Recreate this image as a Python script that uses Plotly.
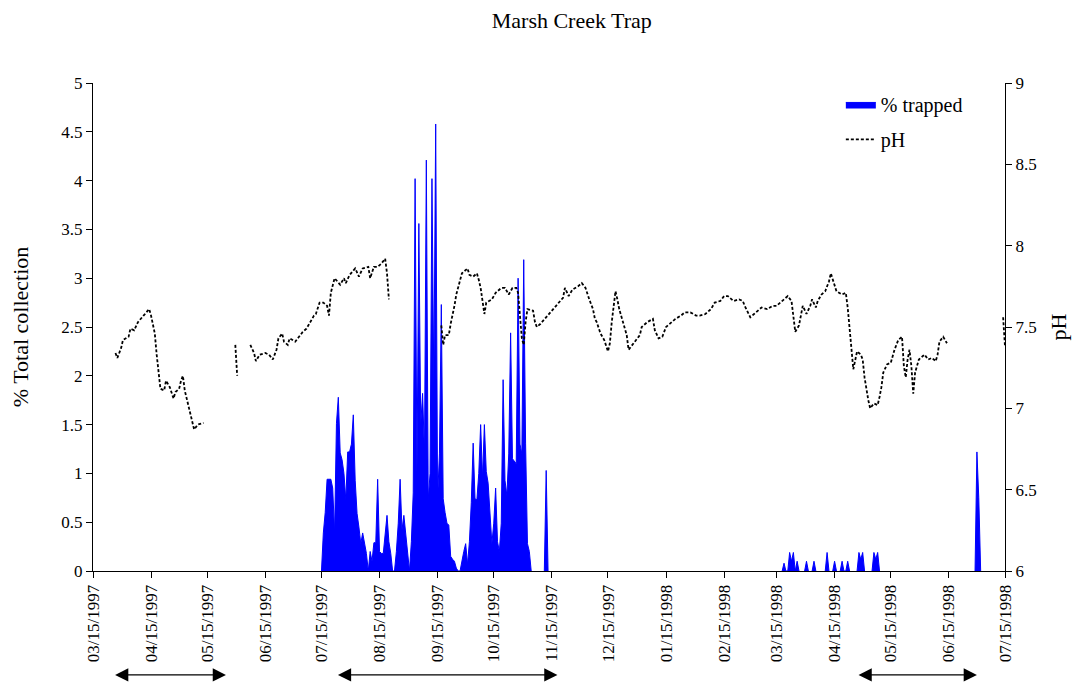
import plotly.graph_objs as go
import pandas as pd

# pH readings (right axis); None breaks the line where there is no data
ph_dates = [
	"1997-03-27", "1997-03-28", "1997-03-30", "1997-03-31", "1997-04-03", "1997-04-04",
	"1997-04-06", "1997-04-08", "1997-04-11", "1997-04-14", "1997-04-15", "1997-04-17",
	"1997-04-18", "1997-04-19", "1997-04-20", "1997-04-22", "1997-04-23", "1997-04-25",
	"1997-04-27", "1997-04-28", "1997-04-30", "1997-05-01", "1997-05-02", "1997-05-03",
	"1997-05-05", "1997-05-06", "1997-05-08", "1997-05-10", "1997-05-13", "1997-05-20",
	"1997-05-30", "1997-05-31", "1997-06-03",
	"1997-06-07", "1997-06-09", "1997-06-10", "1997-06-12", "1997-06-15", "1997-06-17",
	"1997-06-19", "1997-06-21", "1997-06-22", "1997-06-24", "1997-06-25", "1997-06-27",
	"1997-06-28", "1997-07-01", "1997-07-03", "1997-07-05", "1997-07-07", "1997-07-09",
	"1997-07-11", "1997-07-12", "1997-07-14", "1997-07-16", "1997-07-18", "1997-07-19",
	"1997-07-20", "1997-07-22", "1997-07-25", "1997-07-27", "1997-07-28", "1997-07-30",
	"1997-08-02", "1997-08-04", "1997-08-06", "1997-08-09", "1997-08-10", "1997-08-12",
	"1997-08-14", "1997-08-16", "1997-08-18", "1997-08-19", "1997-08-20", "1997-09-01",
	"1997-09-17", "1997-09-18", "1997-09-19", "1997-09-21", "1997-09-22", "1997-09-23",
	"1997-09-24", "1997-09-25", "1997-09-27", "1997-09-28", "1997-10-01", "1997-10-02",
	"1997-10-04", "1997-10-06", "1997-10-07", "1997-10-08", "1997-10-09", "1997-10-10",
	"1997-10-11", "1997-10-14", "1997-10-16", "1997-10-19", "1997-10-21", "1997-10-23",
	"1997-10-25", "1997-10-27", "1997-10-28", "1997-10-29", "1997-10-30", "1997-10-31",
	"1997-11-01", "1997-11-02", "1997-11-05", "1997-11-06", "1997-11-07", "1997-11-09",
	"1997-11-12", "1997-11-14", "1997-11-17", "1997-11-19", "1997-11-21", "1997-11-22",
	"1997-11-24", "1997-11-26", "1997-11-29", "1997-12-01", "1997-12-03", "1997-12-05",
	"1997-12-07", "1997-12-08", "1997-12-09", "1997-12-11", "1997-12-13", "1997-12-15",
	"1997-12-16", "1997-12-17", "1997-12-19", "1997-12-20", "1997-12-21", "1997-12-23",
	"1997-12-25", "1997-12-26", "1997-12-28", "1997-12-30", "1998-01-01", "1998-01-02",
	"1998-01-05", "1998-01-08", "1998-01-09", "1998-01-11", "1998-01-13", "1998-01-15",
	"1998-01-17", "1998-01-20", "1998-01-23", "1998-01-25", "1998-01-28", "1998-01-31",
	"1998-02-02", "1998-02-05", "1998-02-08", "1998-02-10", "1998-02-13", "1998-02-15",
	"1998-02-17", "1998-02-20", "1998-02-23", "1998-02-25", "1998-02-26", "1998-03-01",
	"1998-03-03", "1998-03-05", "1998-03-07", "1998-03-10", "1998-03-13", "1998-03-15",
	"1998-03-17", "1998-03-20", "1998-03-21", "1998-03-23", "1998-03-24", "1998-03-25",
	"1998-03-27", "1998-03-28", "1998-03-29", "1998-03-31", "1998-04-02", "1998-04-03",
	"1998-04-05", "1998-04-06", "1998-04-08", "1998-04-10", "1998-04-12", "1998-04-13",
	"1998-04-14", "1998-04-16", "1998-04-19", "1998-04-21", "1998-04-22", "1998-04-23",
	"1998-04-24", "1998-04-25", "1998-04-27", "1998-04-29", "1998-04-30", "1998-05-01",
	"1998-05-03", "1998-05-04", "1998-05-06", "1998-05-08", "1998-05-09", "1998-05-10",
	"1998-05-11", "1998-05-13", "1998-05-15", "1998-05-16", "1998-05-17", "1998-05-19",
	"1998-05-21", "1998-05-22", "1998-05-23", "1998-05-24", "1998-05-25", "1998-05-26",
	"1998-05-27", "1998-05-28", "1998-05-30", "1998-06-01", "1998-06-02", "1998-06-04",
	"1998-06-06", "1998-06-08", "1998-06-09", "1998-06-10", "1998-06-12", "1998-06-14",
	"1998-06-20", "1998-07-14", "1998-07-15",
]
ph_values = [
	7.34, 7.31, 7.37, 7.42, 7.44, 7.49,
	7.48, 7.53, 7.57, 7.61, 7.57, 7.46,
	7.33, 7.24, 7.12, 7.11, 7.17, 7.13,
	7.06, 7.10, 7.12, 7.17, 7.20, 7.11,
	7.02, 6.96, 6.87, 6.90, 6.91, None,
	7.39, 7.20, None,
	7.39, 7.34, 7.29, 7.33, 7.34, 7.33,
	7.30, 7.36, 7.43, 7.46, 7.41, 7.39,
	7.43, 7.41, 7.44, 7.47, 7.49, 7.53,
	7.57, 7.58, 7.65, 7.65, 7.63, 7.57,
	7.71, 7.80, 7.76, 7.80, 7.77, 7.82,
	7.86, 7.81, 7.86, 7.87, 7.80, 7.87,
	7.87, 7.89, 7.92, 7.83, 7.67, None,
	7.51, 7.39, 7.45, 7.45, 7.52, 7.57,
	7.63, 7.70, 7.79, 7.83, 7.86, 7.82,
	7.81, 7.83, 7.79, 7.74, 7.66, 7.58,
	7.65, 7.67, 7.71, 7.74, 7.74, 7.70,
	7.74, 7.74, 7.71, 7.58, 7.43, 7.39,
	7.53, 7.61, 7.60, 7.53, 7.50, 7.52,
	7.56, 7.59, 7.63, 7.66, 7.68, 7.74,
	7.69, 7.73, 7.75, 7.77, 7.74, 7.67,
	7.61, 7.55, 7.53, 7.46, 7.42, 7.35,
	7.40, 7.53, 7.72, 7.67, 7.61, 7.53,
	7.45, 7.36, 7.39, 7.42, 7.45, 7.50,
	7.53, 7.55, 7.48, 7.43, 7.44, 7.50,
	7.52, 7.55, 7.57, 7.59, 7.59, 7.57,
	7.57, 7.58, 7.61, 7.65, 7.66, 7.69,
	7.69, 7.66, 7.67, 7.66, 7.63, 7.56,
	7.58, 7.60, 7.62, 7.61, 7.63, 7.63,
	7.65, 7.68, 7.69, 7.66, 7.55, 7.47,
	7.51, 7.57, 7.63, 7.58, 7.63, 7.67,
	7.62, 7.66, 7.70, 7.72, 7.78, 7.83,
	7.79, 7.72, 7.70, 7.71, 7.62, 7.50,
	7.34, 7.24, 7.35, 7.33, 7.30, 7.19,
	7.05, 7.00, 7.03, 7.02, 7.07, 7.13,
	7.22, 7.27, 7.28, 7.33, 7.36, 7.42,
	7.44, 7.26, 7.19, 7.30, 7.36, 7.26,
	7.09, 7.22, 7.30, 7.32, 7.33, 7.30,
	7.31, 7.29, 7.33, 7.41, 7.44, 7.40,
	None, 7.56, 7.38,
]

# % of total collection trapped, daily from 07/14/1997
trap_1997_start = "1997-07-14"
trap_1997_pct = [
	0, 0, 0.39, 0.6, 0.94, 0.94, 0.94, 0.85, 0.39, 1.51,
	1.78, 1.21, 1.14, 1.0, 0.73, 1.22, 1.22, 1.30, 1.60, 0.93,
	0.59, 0.45, 0.28, 0.39, 0.3, 0.18, 0, 0.20, 0.10, 0.29,
	0.29, 0.94, 0.20, 0.18, 0.18, 0.42, 0.57, 0.3, 0.18, 0,
	0, 0.2, 0.49, 0.94, 0.42, 0.57, 0.4, 0.18, 0, 0.3,
	0.8, 4.02, 1.0, 3.56, 1.5, 1.82, 1.2, 4.21, 0.73, 1.0,
	4.02, 1.92, 4.58, 0.74, 1.2, 2.73, 0.74, 0.6, 0.49, 0.47,
	0.15, 0.12, 0.10, 0.03, 0, 0, 0.12, 0.2, 0.28, 0.07,
	0.3, 0.7, 1.31, 0.74, 0.73, 1.0, 1.50, 0.95, 1.50, 1.02,
	0.9, 0.6, 0.28, 0.49, 0.85, 0.3, 0.2, 0.49, 1.96, 0.93,
	0.77, 1.2, 2.44, 1.15, 1.12, 1.1, 3.00, 1.3, 1.2, 3.19,
	1.31, 0.28, 0.2, 0, 0, 0, 0, 0, 0, 0,
	0, 1.03, 0,
]
# 1998 catches (all other days were zero)
trap_1998_dates = [
	"1998-03-19", "1998-03-22", "1998-03-23", "1998-03-24", "1998-03-26", "1998-03-31",
	"1998-04-04", "1998-04-11", "1998-04-15", "1998-04-19", "1998-04-22", "1998-04-28",
	"1998-04-29", "1998-04-30", "1998-05-06", "1998-05-07", "1998-05-08", "1998-06-30",
	"1998-07-01",
]
trap_1998_pct = [
	0.08, 0.19, 0.10, 0.19, 0.10, 0.10,
	0.10, 0.19, 0.10, 0.10, 0.10, 0.19,
	0.12, 0.19, 0.19, 0.12, 0.19, 1.22,
	0.75,
]

x_start = "1997-03-15"
x_end = "1998-07-15"

# periods marked with arrows under the date axis
arrow_starts = ["1997-03-26", "1997-07-23", "1998-04-27"]
arrow_ends = ["1997-05-25", "1997-11-18", "1998-06-30"]

days = pd.date_range(x_start, x_end, freq="D")
trap = pd.Series(0.0, index=days)
block = pd.date_range(trap_1997_start, periods=len(trap_1997_pct), freq="D")
trap.loc[block] = trap_1997_pct
trap.loc[pd.to_datetime(trap_1998_dates)] = trap_1998_pct

# only draw around catches so the blue outline doesn't cover the date axis
nz = trap > 0
keep = nz | nz.shift(1, fill_value=False) | nz.shift(-1, fill_value=False)
trap_plot = trap.where(keep)

serif = "Liberation Serif, Times New Roman, serif"

fig = go.Figure()
fig.add_trace(go.Scatter(
	x=trap_plot.index, y=trap_plot.values,
	mode="lines", fill="tozeroy", connectgaps=False,
	line=dict(color="#0000ff", width=1),
	fillcolor="#0000ff",
	name="% trapped", legendgroup="a",
))
fig.add_trace(go.Scatter(
	x=pd.to_datetime(ph_dates), y=ph_values,
	mode="lines", connectgaps=False,
	line=dict(color="black", width=1.8, dash="3px,2px"),
	name="pH", legendgroup="b", yaxis="y2",
))

ticks = pd.date_range(x_start, x_end, freq=pd.DateOffset(months=1))

axis_common = dict(
	showline=True, linecolor="black", linewidth=1,
	ticks="outside", ticklen=6, tickcolor="black",
	showgrid=False, zeroline=False,
	tickfont=dict(family=serif, size=17, color="black"),
)

annotations = []
for a, b in zip(arrow_starts, arrow_ends):
	annotations.append(dict(
		x=b, y=-0.213, xref="x", yref="paper",
		ax=a, ay=0, axref="x", ayref="pixel",
		text="", showarrow=True, arrowside="end+start",
		arrowhead=2, startarrowhead=2, arrowsize=2.2, startarrowsize=2.2,
		arrowwidth=1.2, arrowcolor="black",
	))

# the page body has an 8px margin, so the figure is 8px smaller each way
fig.update_layout(
	width=1078, height=676,
	margin=dict(l=83, r=81, t=75, b=113),
	paper_bgcolor="white", plot_bgcolor="white",
	font=dict(family=serif, color="black"),
	title=dict(
		text="Marsh Creek Trap", x=0.523, xref="container", xanchor="center",
		y=0.982, yanchor="middle", font=dict(family=serif, size=22, color="black"),
	),
	xaxis=dict(
		axis_common, type="date", range=[x_start, x_end],
		tickvals=ticks, tickformat="%m/%d/%Y", tickangle=-90,
	),
	yaxis=dict(
		axis_common, range=[0, 5], dtick=0.5,
		title=dict(text="% Total collection", font=dict(family=serif, size=22), standoff=26),
	),
	yaxis2=dict(
		axis_common, range=[6, 9], dtick=0.5, overlaying="y", side="right",
		title=dict(text="pH", font=dict(family=serif, size=22), standoff=14),
	),
	legend=dict(
		x=0.82, y=0.996, xanchor="left", yanchor="top",
		bgcolor="rgba(0,0,0,0)", tracegroupgap=6,
		font=dict(family=serif, size=20, color="black"),
	),
	annotations=annotations,
	showlegend=True,
)

fig.write_html("out.html")
